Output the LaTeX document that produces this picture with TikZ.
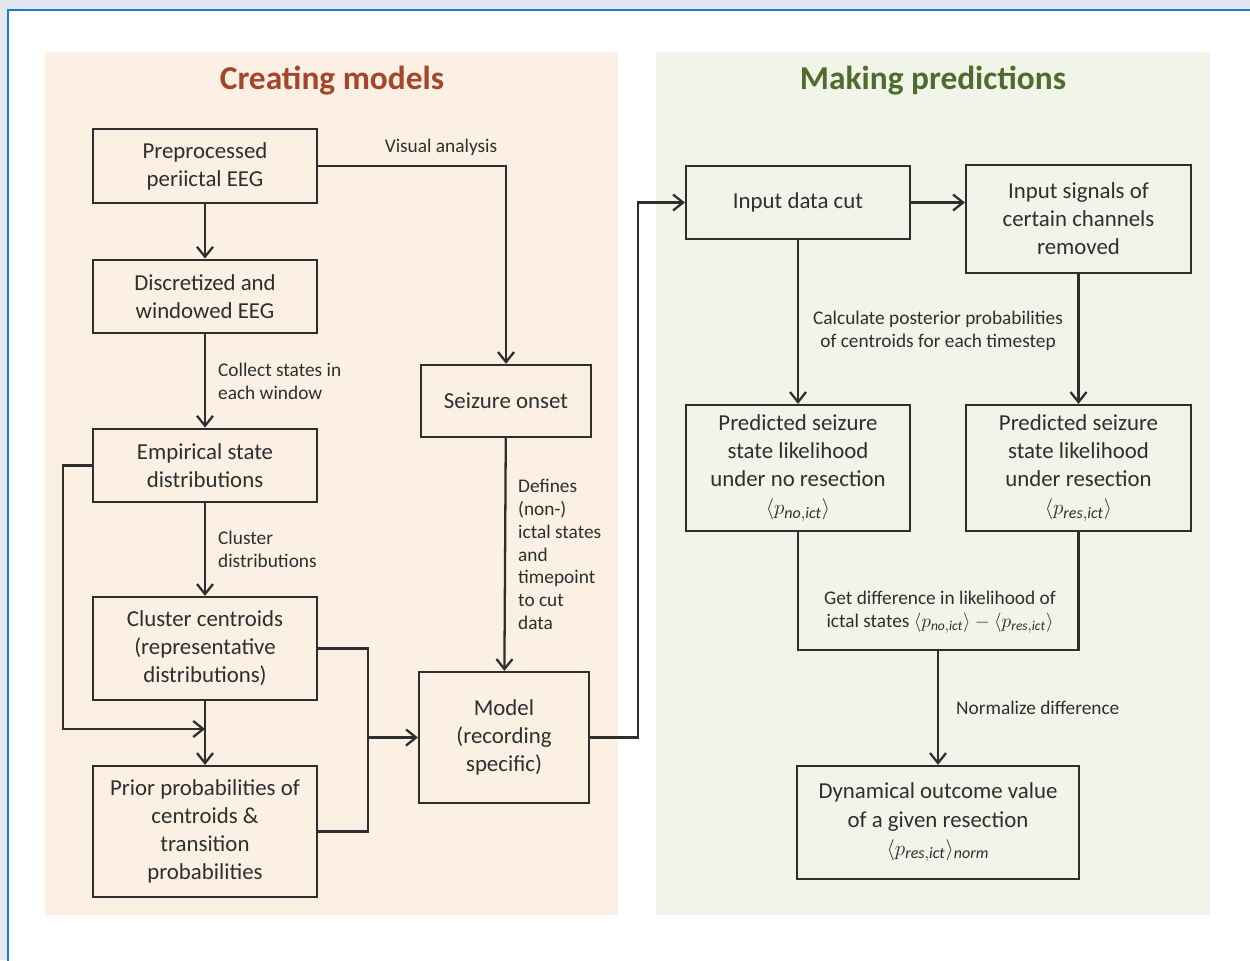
\documentclass[tikz,border=0pt]{standalone}
\usepackage{fontspec}
\setmainfont{Carlito}
\usetikzlibrary{arrows.meta,positioning}
\definecolor{frameblue}{HTML}{1F7BC4}
\definecolor{pagegray}{HTML}{E3E7EF}
\definecolor{peach}{HTML}{FCEFE4}
\definecolor{sage}{HTML}{F1F5E9}
\definecolor{rust}{HTML}{A3462A}
\definecolor{moss}{HTML}{4F6B2D}
\definecolor{ink}{HTML}{2E2E2E}

\begin{document}
\begin{tikzpicture}[x=0.02cm,y=-0.02cm,
  b/.style={draw=ink,line width=1.3pt,minimum width=4.48cm,minimum height=1.47cm,inner sep=1pt,align=center,font=\fontsize{13}{16}\selectfont,text=ink},
  lb/.style={font=\fontsize{11}{13}\selectfont,text=ink,inner sep=0pt,align=left},
  tt/.style={font=\fontsize{19}{22}\selectfont\bfseries},
  ln/.style={draw=ink,line width=1.3pt},
  a/.style={ln,-{Straight Barb[length=2mm,width=3.2mm]}}]
\useasboundingbox (0,0) rectangle (1250,960);
\fill[pagegray] (0,0) rectangle (1250,960);
\draw[frameblue,line width=1.5pt,fill=white] (8,10) rectangle (1280,990);
\fill[peach] (45,52) rectangle (618,915);
\fill[sage] (656,52) rectangle (1210,915);
\node[tt,text=rust] (ttl) at (332,81) {Creating models};
\node[tt,text=moss] (ttr) at (933,81) {Making predictions};
% creating models
\node[b] (pre)   at (205,166)   {Preprocessed\\periictal EEG};
\node[b] (disc)  at (205,296.5) {Discretized and\\windowed EEG};
\node[b] (emp)   at (205,465.5) {Empirical state\\distributions};
\node[b,minimum height=2.06cm] (cent)  at (205,648.5) {Cluster centroids\\(representative\\distributions)};
\node[b,minimum height=2.62cm] (prior) at (205,831.5) {Prior probabilities of\\centroids \&\\transition\\probabilities};
\node[b,minimum width=3.4cm,minimum height=1.44cm] (onset) at (506,401) {Seizure onset};
\node[b,minimum width=3.4cm,minimum height=2.62cm] (model) at (504,737.5) {Model\\(recording\\specific)};
% making predictions
\node[b] (cut) at (798,202.5) {Input data cut};
\node[b,minimum width=4.5cm,minimum height=2.16cm] (rem) at (1078.5,219) {Input signals of\\certain channels\\removed};
\node[b,minimum height=2.52cm] (pno)  at (798,468)    {Predicted seizure\\state likelihood\\under no resection\\$\langle p_{\mathit{no,ict}}\rangle$};
\node[b,minimum width=4.5cm,minimum height=2.52cm] (pres) at (1078.5,468) {Predicted seizure\\state likelihood\\under resection\\$\langle p_{\mathit{res,ict}}\rangle$};
\node[lb,align=center] (diff) at (940,612) {Get difference in likelihood of\\ictal states $\langle p_{\mathit{no,ict}}\rangle-\langle p_{\mathit{res,ict}}\rangle$};
\node[b,minimum width=5.64cm,minimum height=2.26cm] (dyn) at (938,822.5) {Dynamical outcome value\\of a given resection\\$\langle p_{\mathit{res,ict}}\rangle_{\mathit{norm}}$};
\coordinate (m) at (205,729);
\coordinate (j) at (368,737.5);
\coordinate (dbot) at (938,650);
% connectors
\draw[a] (pre) -- (disc);
\draw[a] (disc) -- node[lb,right=0.24cm] {Collect states in\\each window} (emp);
\draw[a] (emp) -- node[lb,right=0.24cm] {Cluster\\distributions} (cent);
\draw[a] (cent) -- (prior);
\draw[a] (emp.west) -- ++(-29,0) |- (m);
\draw[ln] (cent.east) -| (j);
\draw[ln] (prior.east) -| (j);
\draw[a] (j) -- (model.west);
\draw[a] (pre.east) -| (onset.north);
\node[lb] (vis) at (441,147) {Visual analysis};
\draw[a] (onset) -- node[lb,right=0.24cm] {Defines\\(non-)\\ictal states\\and\\timepoint\\to cut\\data} (model);
\draw[a] (model.east) -- ++(48,0) |- (cut.west);
\draw[a] (cut) -- (rem.west |- cut.east);
\draw[a] (cut) -- (pno);
\draw[a] (rem) -- (pres);
\node[lb,align=center] (post) at (938,331) {Calculate posterior probabilities\\of centroids for each timestep};
\draw[ln] (pno.south) -- (pno.south |- dbot) -- (pres.south |- dbot) -- (pres.south);
\draw[a] (dbot) -- node[lb,right=0.34cm] {Normalize difference} (dyn);
\end{tikzpicture}
\end{document}
